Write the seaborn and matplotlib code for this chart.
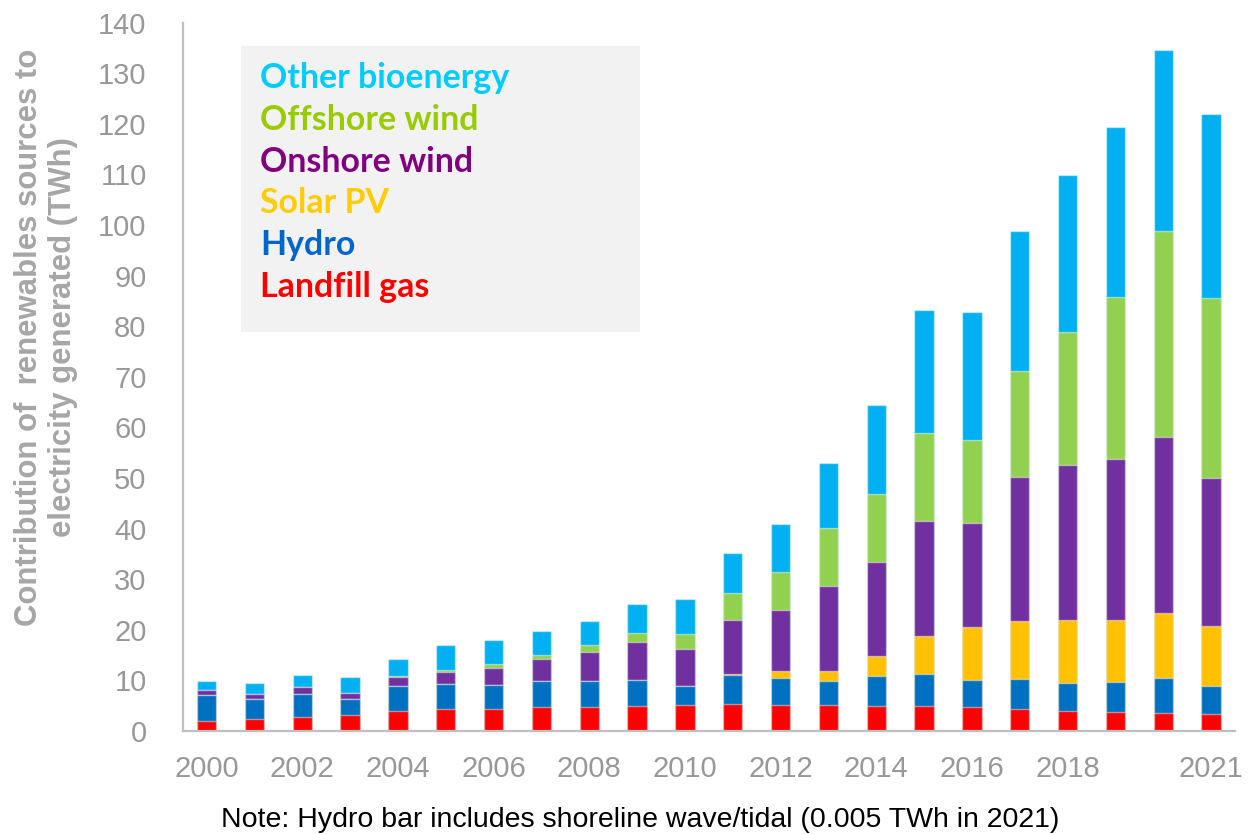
import numpy as np
import pandas as pd
import matplotlib
matplotlib.use("Agg")
import matplotlib.pyplot as plt
from matplotlib.patches import Rectangle, Patch
import seaborn as sns

# --- data (TWh) ---------------------------------------------------------
years = list(range(2000, 2022))
landfill_gas = [2.0, 2.4, 2.7, 3.2, 4.0, 4.3, 4.3, 4.7, 4.7, 4.9, 5.1,
                5.3, 5.1, 5.1, 5.0, 4.9, 4.8, 4.3, 3.9, 3.7, 3.5, 3.3]
hydro = [5.2, 4.0, 4.7, 3.2, 4.8, 4.9, 4.7, 5.1, 5.1, 5.2, 3.8,
         5.7, 5.3, 4.7, 5.8, 6.3, 5.3, 5.9, 5.6, 5.9, 6.9, 5.5]
solar_pv = [0.0, 0.0, 0.0, 0.0, 0.0, 0.0, 0.0, 0.0, 0.0, 0.0, 0.04,
            0.3, 1.4, 2.0, 4.1, 7.5, 10.4, 11.5, 12.5, 12.3, 12.9, 12.0]
onshore_wind = [1.0, 1.0, 1.2, 1.2, 1.8, 2.4, 3.5, 4.4, 5.8, 7.5, 7.2,
                10.7, 12.2, 16.9, 18.5, 22.8, 20.7, 28.6, 30.5, 31.9, 34.9, 29.2]
offshore_wind = [0.0, 0.0, 0.0, 0.0, 0.2, 0.4, 0.8, 0.8, 1.4, 1.8, 3.0,
                 5.3, 7.5, 11.5, 13.4, 17.4, 16.4, 20.9, 26.4, 31.9, 40.7, 35.5]
other_bioenergy = [1.7, 2.0, 2.5, 3.0, 3.4, 4.9, 4.7, 4.7, 4.8, 5.7, 7.0,
                   7.9, 9.5, 12.8, 17.6, 24.4, 25.3, 27.6, 31.0, 33.7, 35.7, 36.5]

series_names = ["Landfill gas", "Hydro", "Solar PV", "Onshore wind",
                "Offshore wind", "Other bioenergy"]
bar_colors = ["#FF0000", "#0070C0", "#FFC000", "#7030A0", "#92D050", "#00B0F0"]
legend_text_colors = ["#FF0000", "#0066CC", "#FFCC00", "#800080", "#99CC00", "#00CCFF"]
tick_years = [2000, 2002, 2004, 2006, 2008, 2010, 2012, 2014, 2016, 2018, 2021]
y_ticks = list(range(0, 141, 10))

# --- figure ---------------------------------------------------------------
sns.set_theme(style="white")
plt.rcParams["font.family"] = ["Liberation Sans", "DejaVu Sans"]

W, H = 1252, 834
fig = plt.figure(figsize=(W / 100, H / 100), dpi=100)
ax = fig.add_axes([182.7 / W, 1 - 731 / H, (1235 - 182.7) / W, (731 - 22.7) / H])

df = pd.DataFrame({
    "year": [str(y) for y in years],
    "Landfill gas": landfill_gas,
    "Hydro": hydro,
    "Solar PV": solar_pv,
    "Onshore wind": onshore_wind,
    "Offshore wind": offshore_wind,
    "Other bioenergy": other_bioenergy,
})
cum = df[series_names].cumsum(axis=1)
order = [str(y) for y in years]

# Stack by overlaying cumulative totals, drawing the tallest layer first
for name, col in reversed(list(zip(series_names, bar_colors))):
    sns.barplot(x=order, y=cum[name].values, order=order, color=col,
                saturation=1, width=0.404, ax=ax,
                edgecolor=(1, 1, 1, 0.45), linewidth=1.0)

ax.set_xlim(-0.5, 21.5)
ax.set_ylim(0, 140)
ax.set_yticks(y_ticks)
ax.set_yticklabels([str(v) for v in y_ticks])
ax.set_xticks([years.index(y) for y in tick_years])
ax.set_xticklabels([str(y) for y in tick_years])
ax.tick_params(axis="both", length=0, labelsize=21, labelcolor="#989898")
ax.tick_params(axis="y", pad=26)
ax.tick_params(axis="x", pad=17)

for side in ["top", "right"]:
    ax.spines[side].set_visible(False)
for side in ["left", "bottom"]:
    ax.spines[side].set_color("#BFBFBF")
    ax.spines[side].set_linewidth(1.6)

ax.set_ylabel("Contribution of  renewables sources to\nelectricity generated (TWh)",
              fontsize=22.4, fontweight="bold", color="#A6A6A6", linespacing=1.2)
ax.yaxis.label.set_va("center")
ax.yaxis.set_label_coords((46 - 182.7) / 1052.3, (731 - 337.5) / 708.3)

# Legend panel
ax.add_patch(Rectangle((0.0554, 0.5633), 0.4346 - 0.0554, 0.9671 - 0.5633,
                       transform=ax.transAxes, facecolor="#F2F2F2",
                       edgecolor="none", zorder=0.5))
handles = [Patch(facecolor="none", edgecolor="none") for _ in series_names]
leg = ax.legend(handles[::-1], series_names[::-1], loc="upper left",
                bbox_to_anchor=((260 - 182.7) / 1052.3, (731 - 62) / 708.3),
                frameon=False, handlelength=0, handletextpad=0, borderpad=0,
                borderaxespad=0, labelspacing=0.29,
                prop={"family": ["Lato", "DejaVu Sans"], "weight": "bold", "size": 24.4},
                labelcolor=legend_text_colors[::-1])

fig.text(640 / W, 1 - 820 / H,
         "Note: Hydro bar includes shoreline wave/tidal (0.005 TWh in 2021)",
         ha="center", va="center", fontsize=20.5, color="black")

fig.savefig("out.png", dpi=100)
